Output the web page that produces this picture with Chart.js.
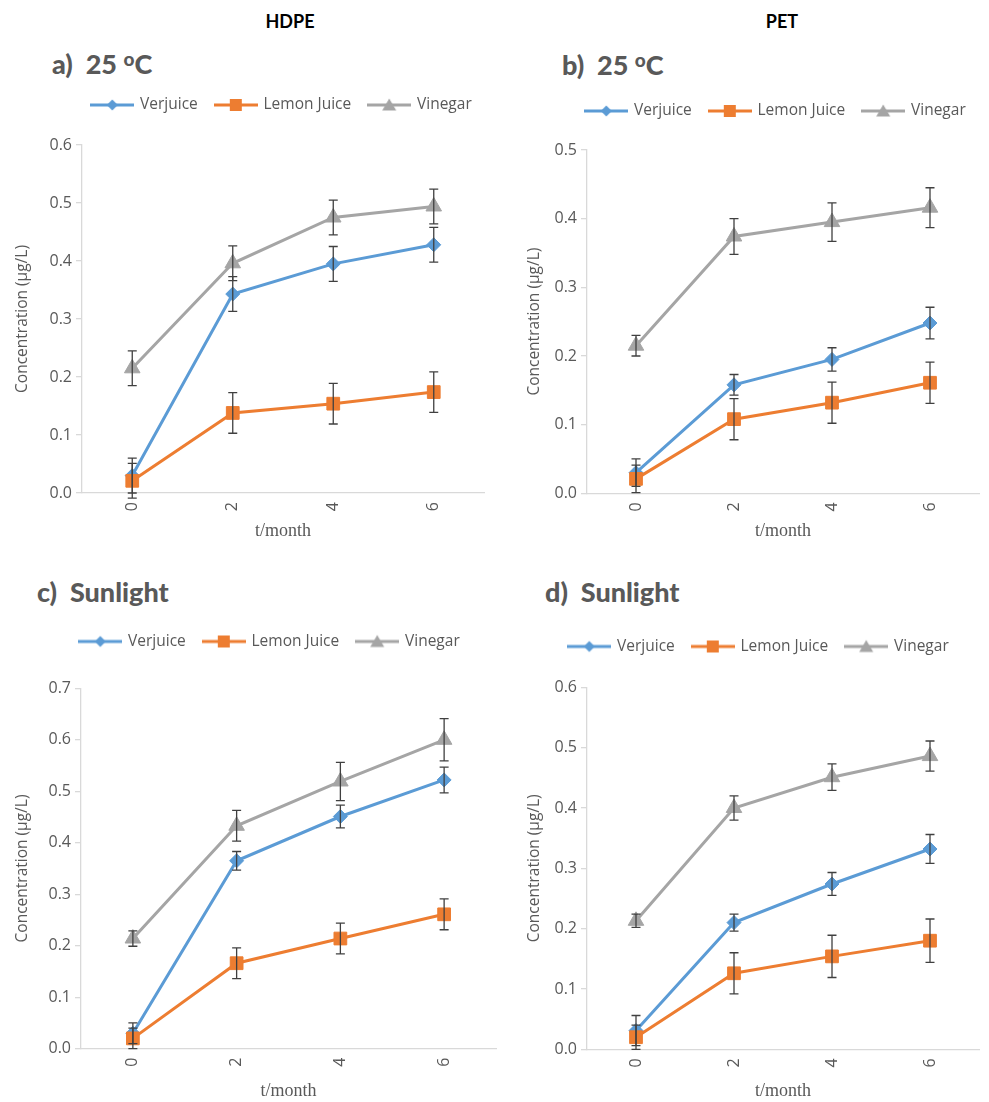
<!DOCTYPE html>
<html>
<head>
<meta charset="utf-8">
<script src="https://cdn.jsdelivr.net/npm/chart.js@4.4.0/dist/chart.umd.min.js"></script>
<style>
  body { margin: 0; width: 989px; height: 1102px; background: #fff; position: relative; overflow: hidden; }
  .head { position: absolute; top: 10px; line-height: 22px; font: bold 18px Lato, sans-serif; color: #000; transform: translateX(-50%); }
  .panel { position: absolute; line-height: 30px; font: 900 27px Lato, sans-serif; color: #595959; white-space: pre; }
  .panel sup { font-size: 19px; vertical-align: 8px; line-height: 0; }
  canvas { position: absolute; }
</style>
</head>
<body>
<div class="head" style="left:290px">HDPE</div>
<div class="head" style="left:782px">PET</div>
<div class="panel" style="left:52px; top:47px">a)  25 <sup>o</sup>C</div>
<div class="panel" style="left:562px; top:48px">b)  25 <sup>o</sup>C</div>
<div class="panel" style="left:37px; top:575px">c)  Sunlight</div>
<div class="panel" style="left:545px; top:575px">d)  Sunlight</div>

<canvas id="chartA"></canvas>
<canvas id="chartB"></canvas>
<canvas id="chartC"></canvas>
<canvas id="chartD"></canvas>

<script>
const months = ['0', '2', '4', '6'];
const seriesNames = ['Verjuice', 'Lemon Juice', 'Vinegar'];
const seriesColors = ['#5B9BD5', '#ED7D31', '#A5A5A5'];
const seriesShapes = ['rectRot', 'rect', 'triangle'];

// a) HDPE, 25 oC
const verjuiceA = [0.030, 0.343, 0.395, 0.428];
const verjuiceErrA = [0.030, 0.030, 0.030, 0.030];
const lemonA = [0.021, 0.138, 0.154, 0.174];
const lemonErrA = [0.030, 0.035, 0.035, 0.035];
const vinegarA = [0.215, 0.396, 0.475, 0.494];
const vinegarErrA = [0.030, 0.030, 0.030, 0.030];

// b) PET, 25 oC
const verjuiceB = [0.030, 0.158, 0.195, 0.248];
const verjuiceErrB = [0.020, 0.015, 0.017, 0.023];
const lemonB = [0.021, 0.108, 0.132, 0.161];
const lemonErrB = [0.020, 0.030, 0.030, 0.030];
const vinegarB = [0.215, 0.374, 0.395, 0.416];
const vinegarErrB = [0.015, 0.026, 0.028, 0.029];

// c) HDPE, sunlight
const verjuiceC = [0.030, 0.365, 0.451, 0.522];
const verjuiceErrC = [0.020, 0.018, 0.022, 0.025];
const lemonC = [0.020, 0.166, 0.214, 0.261];
const lemonErrC = [0.020, 0.030, 0.030, 0.030];
const vinegarC = [0.214, 0.433, 0.519, 0.600];
const vinegarErrC = [0.015, 0.030, 0.037, 0.041];

// d) PET, sunlight
const verjuiceD = [0.031, 0.210, 0.274, 0.332];
const verjuiceErrD = [0.025, 0.014, 0.019, 0.024];
const lemonD = [0.020, 0.126, 0.154, 0.180];
const lemonErrD = [0.020, 0.034, 0.035, 0.036];
const vinegarD = [0.213, 0.400, 0.451, 0.486];
const vinegarErrD = [0.011, 0.020, 0.022, 0.025];

const yMaxes = { A: 0.6, B: 0.5, C: 0.7, D: 0.6 };

// page layout: canvas box, plot area, legend centre, axis title centres
const layouts = {
    A: { box: [0, 80, 494, 470], plot: [82, 145, 491, 493], legend: [282, 105], yTitleX: 22.5, xTitleY: 531.5 },
    B: { box: [495, 80, 494, 470], plot: [587, 150, 987, 493.3], legend: [776, 111], yTitleX: 535, xTitleY: 531.5 },
    C: { box: [0, 610, 506, 494], plot: [81, 688.3, 502, 1048.7], legend: [270, 641.5], yTitleX: 22.5, xTitleY: 1091.5 },
    D: { box: [495, 610, 494, 494], plot: [587, 687.3, 987, 1049.3], legend: [759, 646.5], yTitleX: 535, xTitleY: 1091.5 }
};

const panelData = {
    A: [[verjuiceA, verjuiceErrA], [lemonA, lemonErrA], [vinegarA, vinegarErrA]],
    B: [[verjuiceB, verjuiceErrB], [lemonB, lemonErrB], [vinegarB, vinegarErrB]],
    C: [[verjuiceC, verjuiceErrC], [lemonC, lemonErrC], [vinegarC, vinegarErrC]],
    D: [[verjuiceD, verjuiceErrD], [lemonD, lemonErrD], [vinegarD, vinegarErrD]]
};

const textGray = '#595959';
const axisGray = '#D9D9D9';
const tickFont = { family: 'Open Sans', size: 16 };
const legendFontSize = 15.5;
const legendPad = 18;

function legendIcon(color, shape) {
    const c = document.createElement('canvas');
    c.width = 44; c.height = 16;
    const g = c.getContext('2d');
    g.strokeStyle = color; g.lineWidth = 3;
    g.beginPath(); g.moveTo(0, 8); g.lineTo(44, 8); g.stroke();
    g.fillStyle = color;
    g.beginPath();
    if (shape === 'rectRot') { g.moveTo(22, 2.5); g.lineTo(27.5, 8); g.lineTo(22, 13.5); g.lineTo(16.5, 8); }
    else if (shape === 'rect') { g.rect(16, 2, 12, 12); }
    else { g.moveTo(22, 1.5); g.lineTo(29, 13.5); g.lineTo(15, 13.5); }
    g.closePath(); g.fill();
    return c;
}
const icons = seriesColors.map((c, i) => legendIcon(c, seriesShapes[i]));

const errorBars = {
    id: 'errorBars',
    afterDatasetsDraw(chart) {
        const ctx = chart.ctx;
        const y = chart.scales.y;
        ctx.save();
        ctx.strokeStyle = '#404040';
        ctx.lineWidth = 1.3;
        chart.data.datasets.forEach((ds, i) => {
            chart.getDatasetMeta(i).data.forEach((pt, j) => {
                const top = y.getPixelForValue(ds.data[j] + ds.errors[j]);
                const bot = y.getPixelForValue(ds.data[j] - ds.errors[j]);
                ctx.beginPath();
                ctx.moveTo(pt.x, top); ctx.lineTo(pt.x, bot);
                ctx.moveTo(pt.x - 4.5, top); ctx.lineTo(pt.x + 4.5, top);
                ctx.moveTo(pt.x - 4.5, bot); ctx.lineTo(pt.x + 4.5, bot);
                ctx.stroke();
            });
        });
        ctx.restore();
    }
};

// move the legend to where the reference has it
const placeLegend = {
    id: 'placeLegend',
    afterLayout(chart, args, opts) {
        const lg = chart.legend;
        const w = lg.right - lg.left, h = lg.bottom - lg.top;
        lg.left = opts.cx - w / 2; lg.right = lg.left + w;
        lg.top = opts.cy - legendPad - legendFontSize / 2; lg.bottom = lg.top + h;
    }
};

function makeChart(key) {
    const L = layouts[key];
    const [bx, by, bw, bh] = L.box;
    const [px0, py0, px1, py1] = L.plot;
    const canvas = document.getElementById('chart' + key);
    canvas.width = bw; canvas.height = bh;
    canvas.style.left = bx + 'px'; canvas.style.top = by + 'px';

    const legendHeight = legendFontSize + legendPad + 10;
    const yTitleLine = 15.5 * 1.2;
    const xTitleLine = 18 * 1.2;

    const datasets = panelData[key].map(([vals, errs], i) => ({
        label: seriesNames[i],
        data: vals,
        errors: errs,
        borderColor: seriesColors[i],
        backgroundColor: seriesColors[i],
        borderWidth: 3,
        pointStyle: seriesShapes[i],
        pointRadius: [7, 9, 9][i],
        pointBorderWidth: 1,
        pointBackgroundColor: seriesColors[i],
        pointBorderColor: seriesColors[i],
        tension: 0,
        order: 2 - i
    }));

    return new Chart(canvas.getContext('2d'), {
        type: 'line',
        data: { labels: months, datasets: datasets },
        plugins: [errorBars, placeLegend],
        options: {
            responsive: false,
            animation: false,
            layout: { padding: { left: 0, right: bx + bw - px1, top: py0 - by - legendHeight, bottom: 0 } },
            plugins: {
                tooltip: { enabled: false },
                placeLegend: { cx: L.legend[0] - bx, cy: L.legend[1] - by },
                legend: {
                    display: true,
                    position: 'top',
                    labels: {
                        usePointStyle: true,
                        pointStyleWidth: 40,
                        padding: legendPad,
                        color: textGray,
                        font: { family: 'Open Sans', size: legendFontSize },
                        generateLabels: chart => chart.data.datasets.map((ds, i) => ({
                            text: ds.label,
                            pointStyle: icons[i],
                            fillStyle: 'rgba(0,0,0,0)',
                            strokeStyle: 'rgba(0,0,0,0)',
                            lineWidth: 0,
                            fontColor: textGray,
                            hidden: false,
                            datasetIndex: i
                        }))
                    }
                }
            },
            scales: {
                x: {
                    type: 'category',
                    offset: true,
                    grid: { display: true, drawOnChartArea: false, drawTicks: false },
                    border: { display: true, color: axisGray, width: 1.3 },
                    ticks: { color: textGray, font: tickFont, minRotation: 90, maxRotation: 90, padding: 9 },
                    title: {
                        display: true, text: 't/month', color: textGray,
                        font: { family: 'Liberation Serif', size: 18 },
                        padding: { top: 0, bottom: Math.max(0, by + bh - L.xTitleY - xTitleLine / 2) }
                    },
                    afterFit: s => { s.height = by + bh - py1; }
                },
                y: {
                    min: 0,
                    max: yMaxes[key],
                    grid: { display: true, drawOnChartArea: false, drawTicks: true, tickLength: 6, color: axisGray, lineWidth: 1.3 },
                    border: { display: true, color: axisGray, width: 1.3 },
                    ticks: { stepSize: 0.1, color: textGray, font: tickFont, padding: 4, callback: v => v.toFixed(1) },
                    title: {
                        display: true, text: 'Concentration (µg/L)', color: textGray,
                        font: { family: 'Open Sans', size: 15.5 },
                        padding: { top: L.yTitleX - bx - yTitleLine / 2, bottom: 0 }
                    },
                    afterFit: s => { s.width = px0 - bx; }
                }
            }
        }
    });
}

['A', 'B', 'C', 'D'].forEach(makeChart);
</script>
</body>
</html>
